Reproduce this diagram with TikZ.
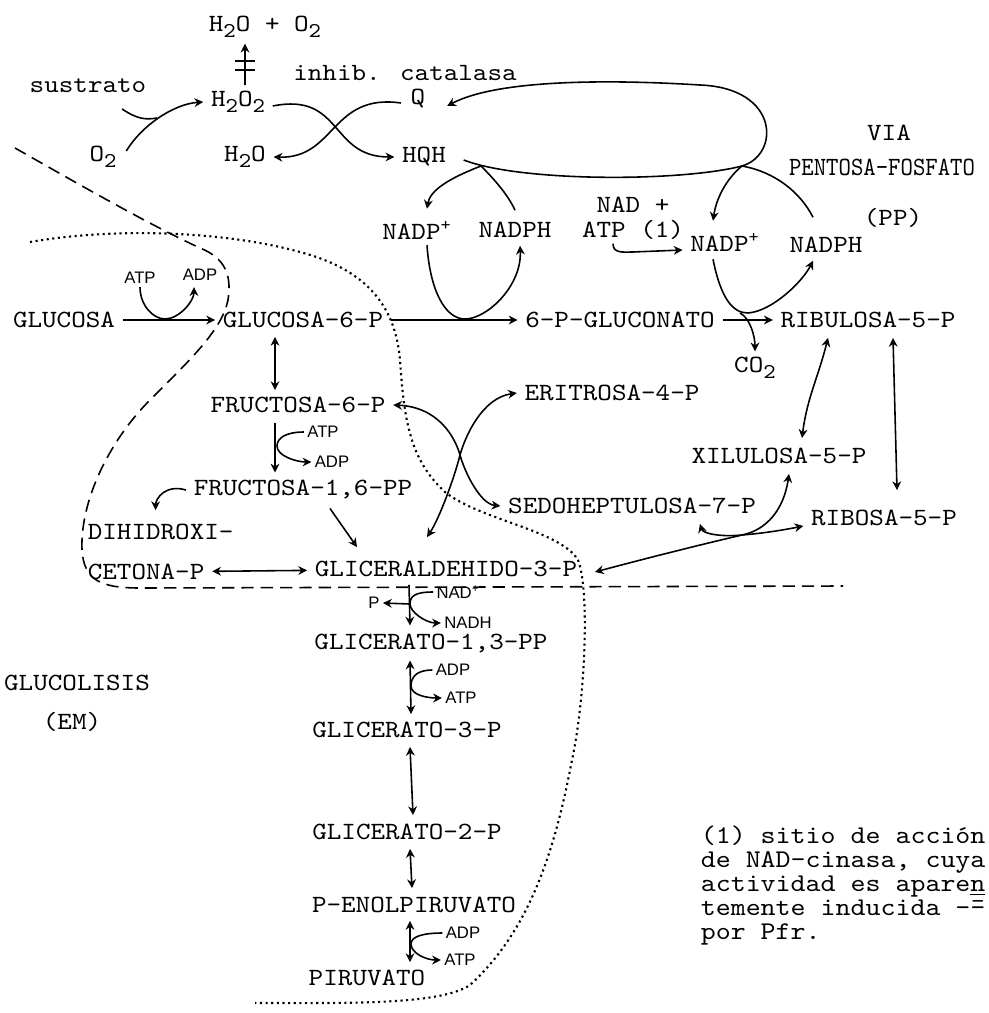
\documentclass[tikz,border=0pt]{standalone}
\usepackage{fontspec}
\newfontfamily\hand{Liberation Sans}
\newfontfamily\tw{lmmono10-regular.otf}[FakeStretch=1.12]
\usetikzlibrary{arrows.meta}

\tikzset{
  met/.style={font=\tw\fontsize{14.1}{17}\selectfont, inner xsep=4pt, inner ysep=3pt},
  cof/.style={font=\hand\fontsize{9.5}{10}\selectfont, inner sep=1.5pt},
  arr/.style={-{Stealth[open,length=5pt,width=5pt]}},
  darr/.style={{Stealth[open,length=5pt,width=5pt]}-{Stealth[open,length=5pt,width=5pt]}},
}
\newcommand\dn[1]{\raisebox{-0.55ex}{\fontsize{12}{12}\selectfont#1}}
\lineskiplimit=-100pt

\begin{document}
\begin{tikzpicture}[x=0.02cm,y=-0.02cm,line width=0.9pt]
\useasboundingbox (0,0) rectangle (988,1013);

\node[met] (h2oo2) at (265,27) {H\dn{2}O + O\dn{2}};
\node[met] (h2o2) at (238,102) {H\dn{2}O\dn{2}};
\node[met, inner ysep=0.5pt] (inhib) at (405,73) {inhib. catalasa};
\node[met] (sustrato) at (88,86) {sustrato};
\node[met] (o2) at (103,157) {O\dn{2}};
\node[met, inner ysep=0.5pt] (q) at (418,99) {Q};
\node[met] (h2o) at (245,157) {H\dn{2}O};
\node[met] (hqh) at (424,157) {HQH};
\node[met] (nadpa) at (417,230) {NADP\textsuperscript{+}};
\node[met] (nadpha) at (515,230) {NADPH};
\node[met] (nad) at (633,205) {NAD +};
\node[met] (atp) at (633,230) {ATP (1)};
\node[met] (nadpb) at (725,242) {NADP\textsuperscript{+}};
\node[met] (nadphb) at (826,245) {NADPH};
\node[met] (via) at (889,133) {VIA};
\node[met, font=\tw\fontsize{12}{14}\selectfont] (pentosa) at (882,167) {\scalebox{1}[1.25]{PENTOSA-FOSFATO}};
\node[met] (pp) at (893,218) {(PP)};

\node[met] (glu) at (64,320) {GLUCOSA};
\node[met] (g6p) at (303,320) {GLUCOSA-6-P};
\node[met] (gluconato) at (620,320) {6-P-GLUCONATO};
\node[met] (ribul) at (868,320) {RIBULOSA-5-P};
\node[met] (co2) at (755,368) {CO\dn{2}};
\node[met] (eri) at (612,393) {ERITROSA-4-P};
\node[met] (f6p) at (298,405) {FRUCTOSA-6-P};
\node[met] (xil) at (779,456) {XILULOSA-5-P};
\node[met] (f16) at (303,490) {FRUCTOSA-1,6-PP};
\node[met] (sedo) at (632,506) {SEDOHEPTULOSA-7-P};
\node[met] (ribo) at (884,518) {RIBOSA-5-P};
\node[met, anchor=west] (dihi) at (80,532) {DIHIDROXI-};
\node[met, anchor=west] (ceto) at (80,572) {CETONA-P};
\node[met] (gald) at (446,569) {GLICERALDEHIDO-3-P};
\node[met] (g13) at (431,643) {GLICERATO-1,3-PP};
\node[met] (g3p) at (407,730) {GLICERATO-3-P};
\node[met] (g2p) at (407,832) {GLICERATO-2-P};
\node[met] (pep) at (414,905) {P-ENOLPIRUVATO};
\node[met] (pir) at (367,978) {PIRUVATO};
\node[met] (glucolisis) at (77,683) {GLUCOLISIS};
\node[met] (em) at (72,722) {(EM)};
\node[met, anchor=north west, align=left,
  font=\tw\fontsize{14.5}{13.6}\selectfont] (nota) at (693,820)
  {(1) sitio de acción\\de NAD-cinasa, cuya\\actividad es apare\underline{n}\\temente inducida -\={-}\\por Pfr.};

\node[cof] (atpa) at (140,278) {ATP};
\node[cof] (adpa) at (200,275) {ADP};
\node[cof] (atpb) at (323,432) {ATP};
\node[cof] (adpb) at (332,462) {ADP};
\node[cof] (nadc) at (458,592) {NAD\textsuperscript{+}};
\node[cof] (nadh) at (468,623) {NADH};
\node[cof] (fos) at (374,603) {P};
\node[cof] (adpc) at (453,670) {ADP};
\node[cof] (atpc) at (461,698) {ATP};
\node[cof] (adpd) at (463,933) {ADP};
\node[cof] (atpd) at (460,960) {ATP};

\coordinate (cat) at (245,65);
\draw[arr] (h2o2.north -| cat) -- (h2oo2.south -| cat);
\draw[line width=1.5pt] ([shift={(-10,-4)}]cat) -- ([shift={(10,-4)}]cat)
  ([shift={(-10,5)}]cat) -- ([shift={(10,5)}]cat);

\coordinate (ks) at (157,118);
\draw ([shift={(-32,10)}]sustrato.south east) .. controls +(15,10) and +(-12,2) .. (ks);
\draw[arr] ([shift={(2,-6)}]o2.east) .. controls +(15,-25) and +(-30,2) .. (h2o2.west);
\draw[arr] ([shift={(0,4)}]h2o2.east) .. controls +(70,-14) and +(-65,0) .. (hqh.west);
\draw[arr] ([shift={(-2,4)}]q.west) .. controls +(-70,-10) and +(62,2) .. (h2o.east);

\coordinate (lb1) at (481,166);
\coordinate (lb2) at (742,166);
\draw[arr] ([shift={(10,3)}]hqh.east) .. controls (520,182) and (680,182) .. (lb2)
  .. controls (780,155) and (780,88) .. (700,85)
  .. controls (620,80) and (500,78) .. ([shift={(14,7)}]q.east);
\draw[arr] (lb1) .. controls (450,178) and (430,190) .. ([shift={(10,-6)}]nadpa.north);
\draw (lb1) .. controls (495,180) and (508,195) .. ([shift={(0,-6)}]nadpha.north);
\draw[arr] (lb2) .. controls (725,180) and (716,200) .. ([shift={(-12,-6)}]nadpb.north);
\draw (lb2) .. controls (775,172) and (800,192) .. ([shift={(-13,-14)}]nadphb.north);

\coordinate (kg) at (165,319);
\draw[arr] (glu) -- (g6p);
\draw (atpa.south) .. controls +(0,18) and +(-12,0) .. (kg);
\draw[arr] (kg) .. controls +(14,0) and +(0,14) .. ([shift={(-6,3)}]adpa.south);

\coordinate (kn) at (465,319);
\draw[arr] (g6p) -- (gluconato);
\draw ([shift={(10,0)}]nadpa.south) .. controls +(3,45) and +(-20,0) .. (kn);
\draw[arr] (kn) .. controls +(22,0) and +(2,40) .. ([shift={(5,2)}]nadpha.south);

\coordinate (kr) at (748,313);
\draw[arr] (gluconato) -- (ribul);
\draw ([shift={(-12,2)}]nadpb.south) .. controls +(8,40) and +(-15,0) .. (kr);
\draw[arr] (kr) .. controls +(25,-2) and +(-10,20) .. ([shift={(-13,2)}]nadphb.south);
\draw[arr] ([shift={(-8,0)}]kr) .. controls +(10,5) and +(0,-15) .. (co2.north);
\draw[arr] ([shift={(-20,-2)}]atp.south) .. controls +(0,10) and +(-10,0) .. (633,252)
  -- ([shift={(0,8)}]nadpb.west);

\draw[darr] ([shift={(-28,3)}]g6p.south) -- ([shift={(-23,-1)}]f6p.north);
\coordinate (kf) at (277,446);
\draw[arr] ([shift={(-23,4)}]f6p.south) -- ([shift={(-28,-2)}]f16.north);
\draw[arr] (atpb.west) .. controls +(-18,0) and +(0,-8) .. (kf) .. controls +(0,10) and +(-15,0) .. (adpb.west);
\draw[arr] (f16.west) .. controls +(-20,-6) and +(0,-12) .. ([shift={(-5,-8)}]dihi.north);
\draw[arr] ([shift={(27,3)}]f16.south) -- ([shift={(-89,-8)}]gald.north);
\draw[darr] (ceto) -- (gald);

\coordinate (kx) at (460,455);
\draw[darr] (f6p.east) .. controls +(45,2) and +(-5,-18) .. (kx) .. controls +(5,18) and +(-20,-2) .. (sedo.west);
\draw[darr] (eri.west) .. controls +(-35,5) and +(5,-18) .. (kx) .. controls +(-6,24) and +(12,-18) .. ([shift={(-19,-18)}]gald.north);

\draw[darr] ([shift={(-40,4)}]ribul.south) .. controls +(-10,40) and +(5,-40) .. ([shift={(23,-4)}]xil.north);
\draw[darr] ([shift={(25,4)}]ribul.south) -- ([shift={(13,-14)}]ribo.north);
\coordinate (kt) at (742,535);
\draw[darr] ([shift={(68,4)}]sedo.south) .. controls +(3,10) and +(-20,2) .. (kt) .. controls +(25,-2) and +(-15,3) .. ([shift={(0,8)}]ribo.west);
\draw[darr] ([shift={(10,4)}]xil.south) .. controls +(-5,35) and +(25,-5) .. (kt) .. controls +(-60,14) and +(30,-8) .. ([shift={(10,3)}]gald.east);

\coordinate (kp) at (410,604);
\draw[arr] ([shift={(-37,2)}]gald.south) -- ([shift={(-21,-2)}]g13.north);
\draw[arr] (nadc.west) .. controls +(-18,0) and +(0,-8) .. (kp) .. controls +(0,8) and +(-15,0) .. (nadh.west);
\draw[arr] (kp) -- (fos.east);
\coordinate (kc) at (411,686);
\draw[darr] ([shift={(-21,2)}]g13.south) -- ([shift={(4,-2)}]g3p.north);
\draw[arr] (adpc.west) .. controls +(-17,0) and +(0,-8) .. (kc) .. controls +(0,9) and +(-15,0) .. (atpc.west);
\draw[darr] ([shift={(3,3)}]g3p.south) -- ([shift={(6,-3)}]g2p.north);
\draw[darr] ([shift={(3,3)}]g2p.south) -- ([shift={(-2,-3)}]pep.north);
\coordinate (kd) at (411,944);
\draw[darr] ([shift={(-4,2)}]pep.south) -- ([shift={(43,-2)}]pir.north);
\draw[arr] (adpd.west) .. controls +(-18,0) and +(0,-8) .. (kd) .. controls +(0,9) and +(-15,0) .. (atpd.west);

\draw[dash pattern=on 7pt off 4pt] (15,148) .. controls (80,185) and (150,225) .. (200,248)
  .. controls (225,258) and (232,275) .. (228,300)
  .. controls (222,330) and (190,360) .. (150,400)
  .. controls (110,440) and (80,500) .. (82,550)
  .. controls (84,580) and (100,588) .. (140,588) -- (843,586);
\draw[line width=1.2pt, dotted] (30,242) .. controls (110,228) and (220,230) .. (300,252)
  .. controls (360,268) and (395,300) .. (400,360)
  .. controls (404,420) and (410,460) .. (445,492)
  .. controls (480,520) and (560,530) .. (578,560)
  .. controls (590,590) and (585,700) .. (572,760)
  .. controls (555,850) and (530,930) .. (470,985)
  .. controls (440,1005) and (350,1003) .. (255,1003);
\end{tikzpicture}
\end{document}
